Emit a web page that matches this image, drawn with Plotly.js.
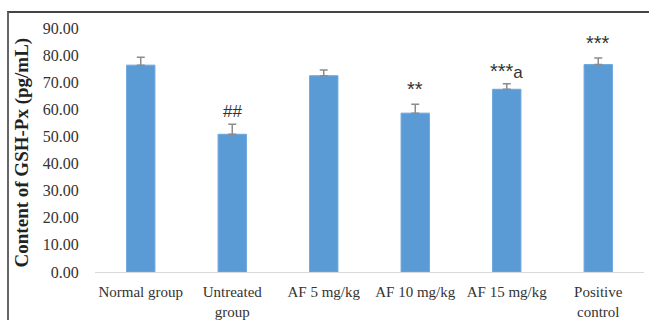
<!DOCTYPE html>
<html>
<head>
<meta charset="utf-8">
<script src="https://cdn.plot.ly/plotly-3.0.1.min.js"></script>
<style>
  html, body { margin: 0; padding: 0; background: #fff; }
  #wrap { position: relative; width: 649px; height: 320px; overflow: hidden; }
  #chart { position: absolute; left: 0; top: 0; width: 649px; height: 320px; }
  #frame { position: absolute; left: 7px; top: 11px; width: 660px; height: 330px;
           border-top: 2px solid #444; border-left: 2px solid #666; pointer-events: none; }
</style>
</head>
<body>
<div id="wrap">
  <div id="chart"></div>
  <div id="frame"></div>
</div>
<script>
const categories = ["Normal group", "Untreated<br>group", "AF 5 mg/kg", "AF 10 mg/kg", "AF 15 mg/kg", "Positive<br>control"];
const values = [76.3, 50.8, 72.4, 58.6, 67.4, 76.5];
const errors = [2.9, 3.7, 2.1, 3.3, 2.0, 2.4];
const marks = ["", "##", "", "**", "***a", "***"];
const tickVals = [0, 10, 20, 30, 40, 50, 60, 70, 80, 90];

const trace = {
  type: "bar",
  x: categories,
  y: values,
  marker: { color: "#5b9bd5", line: { color: "#6ea7dc", width: 1 } },
  error_y: {
    type: "data",
    symmetric: false,
    array: errors,
    arrayminus: errors.map(() => 0),
    color: "#8c8c8c",
    thickness: 1.5,
    width: 4
  },
  hoverinfo: "none"
};

function styleMark(m) {
  // asterisks drawn larger, trailing letter at normal size
  return m.replace(/(\*+)/, '<span style="font-size:20px">$1</span>');
}

const annotations = categories
  .map((c, i) => ({ c, i }))
  .filter(o => marks[o.i] !== "")
  .map(o => ({
    x: o.c,
    y: values[o.i] + errors[o.i],
    xref: "x", yref: "y",
    text: styleMark(marks[o.i]),
    showarrow: false,
    yanchor: "bottom",
    yshift: marks[o.i] === "##" ? 1 : (marks[o.i] === "***a" ? 0 : 2),
    font: { family: "Arial, Liberation Sans, sans-serif", size: 17, color: "#333" }
  }));

annotations.push({
  xref: "paper", yref: "paper",
  x: -0.133, y: 0.49,
  xanchor: "center", yanchor: "middle",
  text: "Content of GSH-Px (pg/mL)",
  textangle: -90,
  showarrow: false,
  font: { family: "Liberation Serif, Times New Roman, serif", size: 19, color: "#222", weight: "bold" }
});

const layout = {
  width: 649, height: 320,
  margin: { l: 95, r: 5, t: 28, b: 48, pad: 0 },
  paper_bgcolor: "#fff",
  plot_bgcolor: "#fff",
  showlegend: false,
  bargap: 0.69,
  font: { family: "Liberation Serif, Times New Roman, serif", color: "#333" },
  xaxis: {
    type: "category",
    showline: true, linecolor: "#d9d9d9", linewidth: 1,
    showgrid: false, zeroline: false,
    ticks: "outside", ticklen: 6, tickcolor: "rgba(0,0,0,0)",
    tickfont: { family: "Liberation Serif, Times New Roman, serif", size: 15, color: "#333" },
    fixedrange: true
  },
  yaxis: {
    range: [0, 90],
    tickvals: tickVals,
    tickformat: ".2f",
    showgrid: false, zeroline: false, showline: false,
    ticks: "outside", ticklen: 12, tickcolor: "rgba(0,0,0,0)",
    tickfont: { family: "Liberation Serif, Times New Roman, serif", size: 16, color: "#333" },
    fixedrange: true
  },
  annotations: annotations
};

Plotly.newPlot("chart", [trace], layout, { displayModeBar: false, staticPlot: true });
</script>
</body>
</html>
